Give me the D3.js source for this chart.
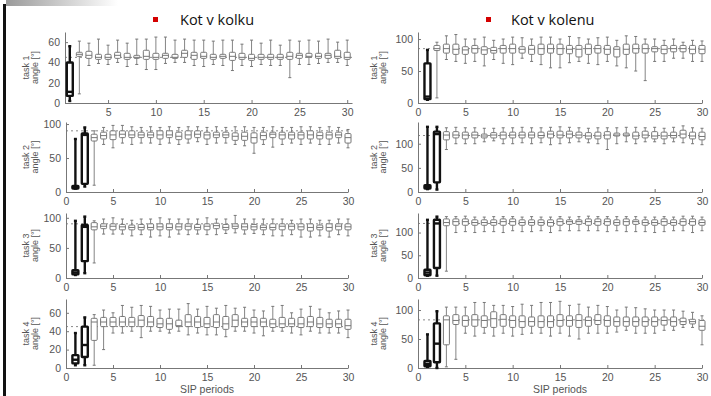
<!DOCTYPE html>
<html>
<head>
<meta charset="utf-8">
<script src="https://cdn.jsdelivr.net/npm/d3@7"></script>
<style>
  body { margin: 0; background: #fff; }
  text { font-family: "Liberation Sans", Arial, sans-serif; }
</style>
</head>
<body>
<svg id="chart" width="711" height="396"></svg>
<script>
// each row: [whisker low, q1, median, q3, whisker high] for SIP periods 1..30
const kolkuTask1 = [
  [2,7,11,40,56],[9,46,48,50,61],[37,44,47,51,59],[39,43,45,48,63],[38,43,45,48,57],
  [40,44,47,50,62],[36,43,45,49,59],[38,44,45,47,63],[33,43,46,52,63],[33,43,45,49,65],
  [39,44,47,49,65],[40,44,45,48,62],[40,45,49,52,63],[37,43,47,50,62],[36,44,46,50,62],
  [38,43,45,48,61],[37,44,46,48,62],[32,42,46,50,62],[37,43,45,49,58],[36,42,44,48,62],
  [38,43,45,48,59],[37,43,45,48,62],[37,43,45,48,57],[25,43,46,50,62],[38,44,47,49,61],
  [38,45,46,49,62],[39,44,46,49,61],[40,44,47,49,63],[40,44,46,52,60],[37,43,45,50,62]
];
const kolkuTask2 = [
  [5,5,7,9,78],[8,12,84,86,95],[10,75,80,85,90],[70,78,83,88,95],[65,77,84,90,98],
  [72,80,85,90,98],[70,80,84,90,96],[72,80,84,88,95],[72,80,84,88,96],[70,78,84,90,95],
  [72,80,84,90,96],[70,77,82,88,95],[72,78,84,90,96],[74,80,85,90,96],[70,78,84,88,95],
  [72,80,84,88,96],[72,80,84,88,95],[70,76,82,87,96],[68,76,82,88,96],[57,72,80,87,95],
  [70,77,83,88,95],[66,80,85,88,96],[70,78,84,88,95],[72,78,84,88,95],[70,78,84,88,96],
  [72,78,84,90,96],[70,78,83,88,95],[70,78,84,88,96],[72,80,84,88,95],[65,72,80,86,92]
];
const kolkuTask3 = [
  [5,6,9,13,95],[8,28,85,88,102],[25,80,85,92,95],[73,82,86,90,98],[73,80,86,90,100],
  [73,80,85,89,98],[70,80,84,88,96],[72,80,84,89,98],[68,80,84,90,98],[70,80,85,90,100],
  [68,80,84,90,98],[73,80,85,90,98],[72,80,86,90,98],[73,80,84,89,98],[72,80,86,90,100],
  [72,82,87,91,98],[74,80,84,89,98],[75,82,86,90,104],[73,80,85,90,98],[74,80,85,89,98],
  [72,80,84,88,98],[70,80,84,90,98],[70,80,86,90,98],[72,80,86,90,96],[68,80,85,90,98],
  [68,78,84,90,98],[70,80,84,88,96],[68,78,84,90,96],[72,80,86,90,98],[70,80,85,90,98]
];
const kolkuTask4 = [
  [3,5,9,14,38],[3,12,25,45,55],[3,30,50,54,58],[20,45,50,55,63],[38,45,50,55,60],
  [38,45,50,56,68],[40,45,50,55,66],[33,45,52,57,68],[40,45,50,56,67],[40,44,48,54,63],
  [38,42,48,54,64],[40,45,46,52,64],[36,45,50,58,70],[38,44,50,56,64],[36,44,48,55,67],
  [36,44,50,58,65],[34,42,48,56,68],[40,45,52,58,65],[40,45,50,54,66],[38,45,50,55,63],
  [35,45,50,54,62],[40,44,48,53,67],[40,44,48,55,68],[38,45,48,54,60],[36,44,48,55,64],
  [40,45,50,56,67],[38,44,48,55,64],[38,44,48,53,60],[38,44,48,53,62],[33,42,46,53,63]
];
const kolenuTask1 = [
  [5,6,10,62,83],[8,82,85,90,95],[68,78,85,92,105],[65,76,84,92,107],[62,76,83,88,100],
  [65,78,85,90,100],[58,76,83,88,103],[68,78,82,87,98],[62,78,85,90,100],[60,78,85,92,103],
  [70,78,84,88,102],[65,76,84,90,100],[60,76,85,92,103],[55,78,85,92,103],[55,76,85,92,100],
  [63,77,84,90,104],[65,72,84,90,102],[62,76,85,92,100],[60,78,85,90,102],[65,76,84,90,103],
  [58,72,84,88,98],[55,76,84,92,105],[50,78,85,92,104],[35,78,85,92,100],[65,80,85,88,100],
  [65,77,84,90,98],[70,80,85,90,100],[70,80,85,90,95],[65,77,84,90,98],[65,77,84,90,97]
];
const kolenuTask2 = [
  [6,7,10,14,135],[5,20,120,125,135],[88,108,118,125,133],[100,112,118,125,134],[100,110,118,124,133],
  [100,112,118,124,133],[104,112,116,120,132],[106,112,118,123,132],[100,110,118,124,133],[100,112,118,124,133],
  [102,112,118,124,134],[100,112,118,124,133],[102,112,117,124,133],[98,112,120,126,134],[100,112,118,126,135],
  [102,112,120,126,134],[104,112,118,124,133],[102,110,116,123,132],[100,110,116,124,133],[88,110,118,125,133],
  [100,116,118,122,133],[104,116,118,122,134],[100,110,116,124,134],[104,112,118,126,133],[104,110,116,125,134],
  [100,110,116,124,132],[104,112,117,124,134],[102,112,120,128,137],[100,110,116,124,133],[98,108,115,124,132]
];
const kolenuTask3 = [
  [5,6,12,18,128],[5,22,120,128,135],[15,115,122,130,135],[100,116,124,130,135],[102,116,124,130,136],
  [100,116,122,128,134],[102,116,122,128,134],[102,116,122,128,135],[100,116,124,130,135],[104,116,124,130,135],
  [102,116,122,128,134],[102,116,122,128,135],[104,116,122,128,134],[100,114,122,128,134],[104,116,124,130,135],
  [104,118,124,128,134],[104,118,124,128,135],[104,116,124,130,136],[104,116,124,130,135],[102,116,124,130,135],
  [104,116,122,128,135],[102,116,124,130,135],[102,118,124,128,135],[102,116,122,128,134],[100,116,122,128,134],
  [102,116,124,130,135],[104,116,122,128,134],[104,116,124,130,136],[100,116,124,130,136],[104,116,122,128,134]
];
const kolenuTask4 = [
  [2,3,7,12,58],[0,10,42,77,98],[2,40,83,90,105],[15,75,82,92,105],[60,72,82,90,105],
  [55,72,83,92,113],[60,70,82,90,113],[55,70,85,97,108],[60,72,84,92,108],[55,70,82,90,106],
  [58,70,80,90,110],[60,72,80,88,108],[60,70,80,90,113],[55,70,80,90,113],[60,72,82,92,115],
  [55,72,82,90,108],[50,70,82,92,110],[60,72,82,88,105],[60,75,82,92,108],[60,72,82,90,106],
  [62,72,80,88,100],[65,72,80,88,105],[60,72,80,88,104],[60,72,80,88,102],[60,72,80,88,100],
  [65,74,82,88,100],[65,72,80,88,100],[70,75,80,86,98],[70,76,80,84,96],[40,65,72,82,90]
];

const titles = ["Kot v kolku", "Kot v kolenu"];
const taskLabels = ["task 1", "task 2", "task 3", "task 4"];
const xLabel = "SIP periods";
const refValues = [[45, 90, 90, 45], [85, 117, 120, 83]];
const yMax = [[70, 103, 108, 75], [111, 145, 143, 119]];
const yTickValues = [[[0,20,40,60],[0,50,100],[0,50,100],[0,20,40,60]],
                     [[0,50,100],[0,50,100],[0,50,100],[0,50,100]]];

let svg = d3.select("#chart");

// scan leftovers: grey smear at the top and black border on the left
let grad = svg.append("defs").append("linearGradient").attr("id", "smear");
grad.append("stop").attr("offset", "0%").attr("stop-color", "#9a9a9a");
grad.append("stop").attr("offset", "100%").attr("stop-color", "#fff");
svg.append("rect").attr("x", 6).attr("y", 0).attr("width", 112).attr("height", 6).attr("fill", "url(#smear)");
svg.append("rect").attr("x", 3).attr("y", 4).attr("width", 3).attr("height", 392).attr("fill", "#111");

// panel layout (pixels)
let cols = [
  {x0: 66, x1: 348, labX: 29, data: [kolkuTask1, kolkuTask2, kolkuTask3, kolkuTask4], thick: [1, 2, 2, 2], sq: 153, tx: 180},
  {x0: 418, x1: 702, labX: 377, data: [kolenuTask1, kolenuTask2, kolenuTask3, kolenuTask4], thick: [1, 2, 2, 2], sq: 486, tx: 511}
];
let rows = [
  {bottom: 103, top: 32},
  {bottom: 192, top: 122},
  {bottom: 278, top: 213},
  {bottom: 368, top: 299}
];

cols.forEach(function (c, ci) {
  svg.append("rect").attr("x", c.sq).attr("y", 17).attr("width", 5).attr("height", 5).attr("fill", "#d40000");
  svg.append("text").attr("x", c.tx).attr("y", 25).attr("font-size", 14.5)
    .style("font-family", "'Open Sans', sans-serif").attr("fill", "#111").text(titles[ci]);

  rows.forEach(function (r, ri) {
    let data = c.data[ri];
    let xDom = (ci === 0 && ri === 0) ? [0.5, 30.5] : [0, 30];
    let x = d3.scaleLinear().domain(xDom).range(ci === 0 && ri === 0 ? [65, 352] : [c.x0, c.x1]);
    let y = d3.scaleLinear().domain([0, yMax[ci][ri]]).range([r.bottom, r.top]);
    let g = svg.append("g");

    // reference line
    g.append("line")
      .attr("x1", x.range()[0]).attr("x2", x.range()[1] + 2)
      .attr("y1", y(refValues[ci][ri])).attr("y2", y(refValues[ci][ri]))
      .attr("stroke", "#888").attr("stroke-width", 1).attr("stroke-dasharray", "2,3");

    // axes
    let xt = (ci === 0 && ri === 0) ? [5, 10, 15, 20, 25, 30] : [0, 5, 10, 15, 20, 25, 30];
    let xa = g.append("g").attr("transform", "translate(0," + r.bottom + ")")
      .call(d3.axisBottom(x).tickValues(xt).tickSize(-3).tickSizeOuter(0).tickPadding(6));
    let ya = g.append("g").attr("transform", "translate(" + x.range()[0] + ",0)")
      .call(d3.axisLeft(y).tickValues(yTickValues[ci][ri]).tickSize(-3).tickSizeOuter(0).tickPadding(5));
    [xa, ya].forEach(function (a) {
      a.select(".domain").attr("stroke", "#777");
      a.selectAll(".tick line").attr("stroke", "#777");
      a.selectAll(".tick text").attr("fill", "#555").attr("font-size", 10.5)
        .style("font-family", "'Liberation Sans', Arial, sans-serif");
    });

    // y label
    let cy = (r.top + r.bottom) / 2;
    let yl = g.append("text").attr("transform", "translate(" + c.labX + "," + cy + ") rotate(-90)")
      .attr("text-anchor", "middle").attr("font-size", 9).attr("fill", "#555");
    yl.append("tspan").attr("x", 0).attr("dy", 0).text(taskLabels[ri]);
    yl.append("tspan").attr("x", 0).attr("dy", 9).text("angle [°]");

    // boxes
    let bw = 6;
    let boxes = g.selectAll(".box").data(data).enter().append("g")
      .each(function (d, i) {
        let b = d3.select(this);
        let cx = x(i + 1);
        let heavy = i < c.thick[ri];
        let col = heavy ? "#111" : "#777";
        let sw = heavy ? 2.4 : 1;
        b.append("line").attr("x1", cx).attr("x2", cx).attr("y1", y(d[0])).attr("y2", y(d[1]))
          .attr("stroke", col).attr("stroke-width", heavy ? 2.4 : 0.9);
        b.append("line").attr("x1", cx).attr("x2", cx).attr("y1", y(d[3])).attr("y2", y(d[4]))
          .attr("stroke", col).attr("stroke-width", heavy ? 2.4 : 0.9);
        [d[0], d[4]].forEach(function (v) {
          b.append("line").attr("x1", cx - 1.5).attr("x2", cx + 1.5).attr("y1", y(v)).attr("y2", y(v))
            .attr("stroke", col).attr("stroke-width", sw);
        });
        b.append("rect").attr("x", cx - bw / 2).attr("width", bw)
          .attr("y", y(d[3])).attr("height", Math.max(1, y(d[1]) - y(d[3])))
          .attr("fill", "#fff").attr("stroke", col).attr("stroke-width", sw).attr("rx", heavy ? 0.5 : 1);
        b.append("line").attr("x1", cx - bw / 2).attr("x2", cx + bw / 2).attr("y1", y(d[2])).attr("y2", y(d[2]))
          .attr("stroke", col).attr("stroke-width", sw);
      });

    if (ri === 3) {
      g.append("text").attr("x", (c.x0 + c.x1) / 2).attr("y", 393).attr("text-anchor", "middle")
        .attr("font-size", 10.5).attr("fill", "#555").text(xLabel);
    }
  });
});
</script>
</body>
</html>
